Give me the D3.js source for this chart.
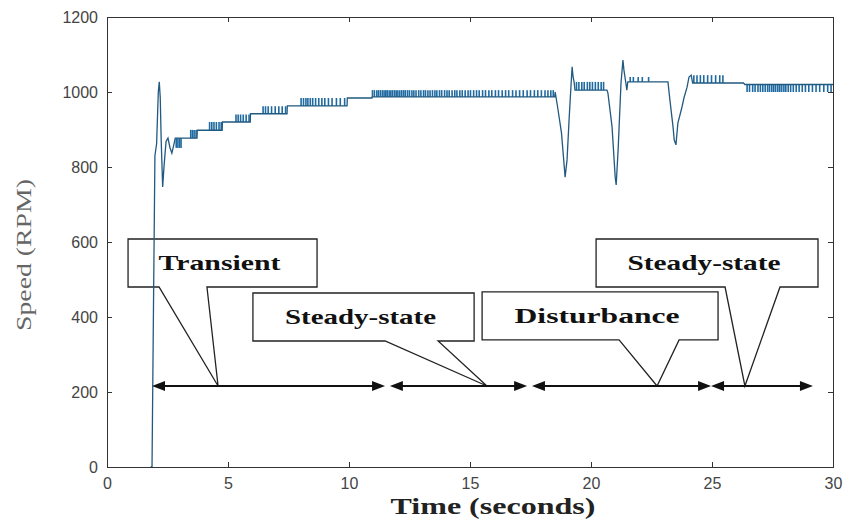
<!DOCTYPE html>
<meta charset="utf-8">
<style>

body {
  margin: 0;
  background: #fff;
}

svg {
  display: block;
}

.axis path, .axis line {
  stroke: #333;
  stroke-width: 1px;
  shape-rendering: crispEdges;
}

.axis text {
  font-family: Arial, "Liberation Sans", sans-serif;
  font-size: 16px;
  fill: #444;
}

.trace {
  fill: none;
  stroke: #215a80;
  stroke-width: 1.3px;
}

.burst line {
  stroke: #1f6aa0;
  stroke-width: 1.6px;
}

.callout {
  fill: none;
  stroke: #222;
  stroke-width: 1.3px;
}

.callout-text {
  font-family: "Times New Roman", "Liberation Serif", serif;
  font-weight: bold;
  font-size: 22px;
  fill: #111;
}

.span-line {
  stroke: #111;
  stroke-width: 2px;
}

.ylabel {
  font-family: "Times New Roman", "Liberation Serif", serif;
  font-size: 22px;
  fill: #666;
}

.xlabel {
  font-family: "Times New Roman", "Liberation Serif", serif;
  font-weight: bold;
  font-size: 24px;
  fill: #222;
}
</style>
<body>

<script src="https://d3js.org/d3.v7.min.js"></script>
<script>

// axis ticks
var xTicks = [0, 5, 10, 15, 20, 25, 30];
var yTicks = [0, 200, 400, 600, 800, 1000, 1200];

// speed trace (time in s, speed in RPM)
var traceT = [1.80, 1.86, 1.92, 1.98, 2.05, 2.12, 2.16, 2.20, 2.24, 2.30, 2.36, 2.44, 2.52, 2.60, 2.68, 2.76, 2.82,
  3.72, 3.73, 4.76, 4.77, 5.92, 5.93, 7.44, 7.45, 9.92, 9.93, 10.95, 10.96, 18.50,
  18.52, 18.62, 18.78, 18.93, 19.01, 19.10, 19.18, 19.22, 19.26, 19.30, 19.34,
  20.66, 20.70, 20.87, 21.00, 21.04, 21.12, 21.24, 21.32, 21.36, 21.44, 21.48, 21.52,
  23.18, 23.26, 23.39, 23.44, 23.51, 23.59, 23.76, 23.84, 23.97, 24.05, 24.14, 24.20,
  26.30, 26.36, 30.00];
var traceV = [0, 0, 420, 830, 862, 1000, 1027, 985, 870, 747, 805, 868, 877, 852, 837, 859, 877,
  877, 898, 898, 920, 920, 942, 942, 963, 963, 984, 984, 987, 987,
  1000, 960, 891, 773, 819, 933, 1024, 1067, 1040, 1027, 1005,
  1005, 997, 907, 773, 752, 845, 1024, 1085, 1059, 1024, 1005, 1027,
  1027, 979, 907, 872, 859, 917, 960, 984, 1013, 1040, 1045, 1024,
  1024, 1020, 1020];

// quantisation flicker: each group toggles between a base and a second level
var burstBase = [877, 877, 898, 920, 942, 963, 987, 1005, 1027, 1024, 1020];
var burstPeak = [851, 899, 920, 940, 962, 984, 1005, 1027, 1040, 1045, 1000];
var burstTimes = [
  [2.86, 2.93, 3.00, 3.06],
  [3.46, 3.53, 3.60, 3.68],
  [4.24, 4.33, 4.42, 4.52, 4.63, 4.72],
  [5.33, 5.42, 5.52, 5.63, 5.75, 5.87],
  [6.45, 6.55, 6.66, 6.80, 6.95, 7.10, 7.24, 7.38],
  [8.02, 8.12, 8.22, 8.30, 8.40, 8.50, 8.62, 8.75, 8.88, 9.00, 9.15, 9.30, 9.48, 9.64, 9.82],
  [10.97, 11.05, 11.15, 11.22, 11.30, 11.38, 11.45, 11.52, 11.58, 11.66, 11.73, 11.80, 11.88, 11.95,
   12.02, 12.10, 12.18, 12.26, 12.33, 12.42, 12.50, 12.60, 12.68, 12.77, 12.88, 12.97, 13.08, 13.16,
   13.26, 13.35, 13.45, 13.55, 13.63, 13.74, 13.83, 13.95, 14.05, 14.14, 14.26, 14.37, 14.46, 14.58,
   14.68, 14.80, 14.92, 15.02, 15.15, 15.27, 15.38, 15.52, 15.64, 15.78, 15.90, 16.05, 16.18, 16.33,
   16.47, 16.60, 16.76, 16.90, 17.05, 17.20, 17.36, 17.50, 17.66, 17.80, 17.95, 18.10, 18.22, 18.34, 18.44],
  [19.40, 19.50, 19.62, 19.72, 19.85, 19.95, 20.06, 20.18, 20.30, 20.42, 20.52],
  [21.62, 21.75, 21.95, 22.12, 22.38],
  [24.25, 24.38, 24.52, 24.66, 24.82, 24.98, 25.15, 25.32, 25.45],
  [26.45, 26.55, 26.68, 26.78, 26.90, 27.00, 27.10, 27.20, 27.30, 27.38, 27.47, 27.55, 27.63, 27.72,
   27.80, 27.88, 27.97, 28.05, 28.15, 28.25, 28.36, 28.48, 28.60, 28.73, 28.86, 29.00, 29.15, 29.30,
   29.45, 29.62, 29.78, 29.92]
];

// callout boxes (data units)
var calloutLabels = ["Transient", "Steady-state", "Disturbance", "Steady-state"];
var boxLeft = [0.87, 6.03, 15.50, 20.21];
var boxRight = [8.68, 15.17, 25.25, 29.38];
var boxTop = [608, 464, 467, 608];
var boxBottom = [480, 336, 339, 480];
var notchL = [2.15, 11.49, 21.16, 25.54];
var notchR = [4.13, 13.68, 23.64, 27.81];
var notchTip = [4.59, 15.70, 22.73, 26.36];
var labelWidth = [122, 151, 165, 153];

// double headed arrows marking the phases
var arrowLevel = 216;
var spanStart = [1.86, 11.69, 17.56, 24.96];
var spanEnd = [11.49, 17.36, 24.96, 29.17];

var width = 851,
    height = 521,
    margin = {top: 17, right: 18, bottom: 54, left: 107};

var svg = d3.select("body")
  .append("svg")
  .attr("width", width)
  .attr("height", height);

var x = d3.scaleLinear()
  .domain([0, 30])
  .range([margin.left, width - margin.right]);

var y = d3.scaleLinear()
  .domain([0, 1200])
  .range([height - margin.bottom, margin.top]);

svg.append("defs").append("clipPath")
  .attr("id", "plotclip")
  .append("rect")
  .attr("x", margin.left)
  .attr("y", margin.top)
  .attr("width", width - margin.left - margin.right)
  .attr("height", height - margin.top - margin.bottom);

/* ------- AXES (matlab style box, ticks inside) -------*/
svg.append("g")
  .attr("class", "axis")
  .attr("transform", "translate(0," + (height - margin.bottom) + ")")
  .call(d3.axisBottom(x).tickValues(xTicks).tickSize(-5).tickSizeOuter(0).tickPadding(11).tickFormat(d3.format("d")));

svg.append("g")
  .attr("class", "axis")
  .attr("transform", "translate(0," + margin.top + ")")
  .call(d3.axisTop(x).tickValues(xTicks).tickSize(-5).tickSizeOuter(0).tickFormat(""));

svg.append("g")
  .attr("class", "axis")
  .attr("transform", "translate(" + margin.left + ",0)")
  .call(d3.axisLeft(y).tickValues(yTicks).tickSize(-5).tickSizeOuter(0).tickPadding(9).tickFormat(d3.format("d")));

svg.append("g")
  .attr("class", "axis")
  .attr("transform", "translate(" + (width - margin.right) + ",0)")
  .call(d3.axisRight(y).tickValues(yTicks).tickSize(-5).tickSizeOuter(0).tickFormat(""));

/* ------- CALLOUTS -------*/
var callouts = svg.append("g");

calloutLabels.forEach(function(label, i) {
  var p = d3.path();
  p.moveTo(x(boxLeft[i]), y(boxTop[i]));
  p.lineTo(x(boxRight[i]), y(boxTop[i]));
  p.lineTo(x(boxRight[i]), y(boxBottom[i]));
  p.lineTo(x(notchR[i]), y(boxBottom[i]));
  p.lineTo(x(notchTip[i]), y(arrowLevel));
  p.lineTo(x(notchL[i]), y(boxBottom[i]));
  p.lineTo(x(boxLeft[i]), y(boxBottom[i]));
  p.closePath();

  callouts.append("path")
    .attr("class", "callout")
    .attr("d", p.toString());

  callouts.append("text")
    .attr("class", "callout-text")
    .attr("x", (x(boxLeft[i]) + x(boxRight[i])) / 2 - 3)
    .attr("y", y(boxTop[i]) + 31)
    .attr("text-anchor", "middle")
    .attr("textLength", labelWidth[i])
    .attr("lengthAdjust", "spacingAndGlyphs")
    .text(label);
});

/* ------- SPEED TRACE -------*/
var plot = svg.append("g").attr("clip-path", "url(#plotclip)");

var traceData = traceT.map(function(t, i) { return {t: t, v: traceV[i]}; });

var line = d3.line()
  .x(function(d) { return x(d.t); })
  .y(function(d) { return y(d.v); });

var bursts = plot.append("g").attr("class", "burst");
burstTimes.forEach(function(times, i) {
  bursts.selectAll(null)
    .data(times)
    .enter().append("line")
    .attr("x1", function(d) { return x(d); })
    .attr("x2", function(d) { return x(d); })
    .attr("y1", y(burstBase[i]))
    .attr("y2", y(burstPeak[i]));
});

plot.append("path")
  .datum(traceData)
  .attr("class", "trace")
  .attr("d", line);

/* ------- PHASE ARROWS -------*/
var arrows = svg.append("g");
var headLen = 13, headHalf = 5;

function head(xTip, yTip, dir) {
  var p = d3.path();
  p.moveTo(xTip, yTip);
  p.lineTo(xTip + dir * headLen, yTip - headHalf);
  p.lineTo(xTip + dir * headLen, yTip + headHalf);
  p.closePath();
  return p.toString();
}

spanStart.forEach(function(s, i) {
  var x0 = x(s), x1 = x(spanEnd[i]), yy = y(arrowLevel);
  arrows.append("line")
    .attr("class", "span-line")
    .attr("x1", x0 + 4).attr("x2", x1 - 4)
    .attr("y1", yy).attr("y2", yy);
  arrows.append("path").attr("d", head(x0, yy, 1)).attr("fill", "#111");
  arrows.append("path").attr("d", head(x1, yy, -1)).attr("fill", "#111");
});

/* ------- AXIS LABELS -------*/
svg.append("text")
  .attr("class", "ylabel")
  .attr("transform", "translate(31,255) rotate(-90)")
  .attr("text-anchor", "middle")
  .attr("textLength", 152)
  .attr("lengthAdjust", "spacingAndGlyphs")
  .text("Speed (RPM)");

svg.append("text")
  .attr("class", "xlabel")
  .attr("x", 493)
  .attr("y", 514)
  .attr("text-anchor", "middle")
  .attr("textLength", 205)
  .attr("lengthAdjust", "spacingAndGlyphs")
  .text("Time (seconds)");

</script>
</body>
